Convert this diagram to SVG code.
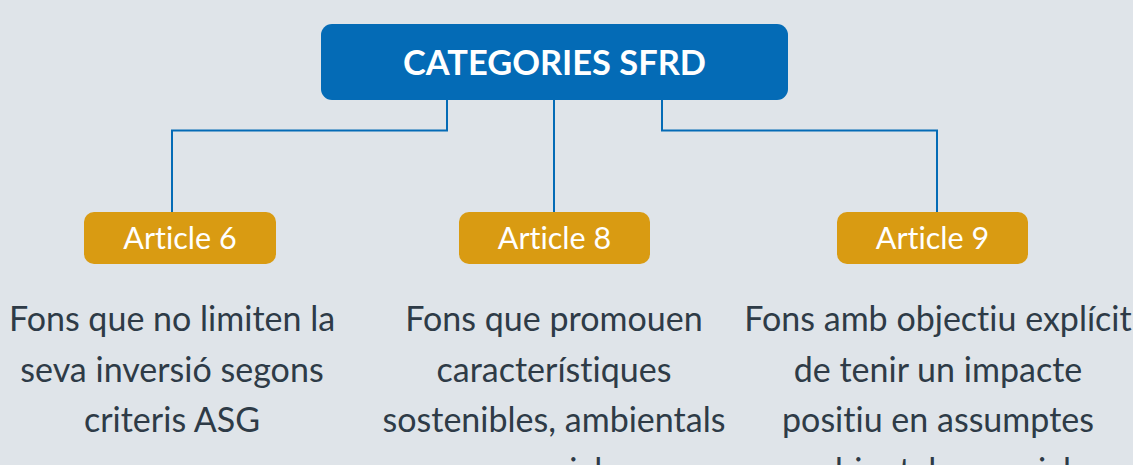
<svg xmlns="http://www.w3.org/2000/svg" width="1133" height="465" viewBox="0 0 1133 465">
<style>
.bg{fill:#dfe4e9}
.root{fill:#046bb6}
.art{fill:#d99b12}
.conn{fill:none;stroke:#046bb6;stroke-width:2}
.t{font-family:Lato,"Liberation Sans",sans-serif;text-anchor:middle;font-variant-ligatures:none;font-feature-settings:"liga" 0,"clig" 0,"dlig" 0,"calt" 0;letter-spacing:0.01px}
.rt{font-size:34.4px;font-weight:bold;fill:#ffffff}
.at{font-size:30.5px;fill:#ffffff}
.dt{font-size:34px;fill:#2e3b47}
</style>
<rect class="bg" x="0" y="0" width="1133" height="465"/>
<g id="connectors">
<path class="conn" d="M447,100 V130.5 H172 V212"/>
<path class="conn" d="M554,100 V212"/>
<path class="conn" d="M662,100 V130.5 H937 V212"/>
</g>
<g id="root">
<rect class="root" x="321" y="24" width="467" height="76" rx="11"/>
<text class="t rt" x="554.5" y="75">CATEGORIES SFRD</text>
</g>
<g id="article6">
<rect class="art" x="84" y="212" width="192" height="52" rx="10"/>
<text class="t at" x="180" y="249">Article 6</text>
</g>
<g id="article8">
<rect class="art" x="459" y="212" width="191" height="52" rx="10"/>
<text class="t at" x="554.5" y="249">Article 8</text>
</g>
<g id="article9">
<rect class="art" x="837" y="212" width="191" height="52" rx="10"/>
<text class="t at" x="932.5" y="249">Article 9</text>
</g>
<g id="desc6">
<text class="t dt" x="172" y="331">Fons que no limiten la</text>
<text class="t dt" x="172" y="381.5">seva inversió segons</text>
<text class="t dt" x="172" y="432">criteris ASG</text>
</g>
<g id="desc8">
<text class="t dt" x="554" y="331">Fons que promouen</text>
<text class="t dt" x="554" y="381.5">característiques</text>
<text class="t dt" x="554" y="432">sostenibles, ambientals</text>
<text class="t dt" x="554" y="482.5">o socials</text>
</g>
<g id="desc9">
<text class="t dt" x="938" y="331">Fons amb objectiu explícit</text>
<text class="t dt" x="938" y="381.5">de tenir un impacte</text>
<text class="t dt" x="938" y="432">positiu en assumptes</text>
<text class="t dt" x="938" y="482.5">ambientals o socials</text>
</g>
</svg>
